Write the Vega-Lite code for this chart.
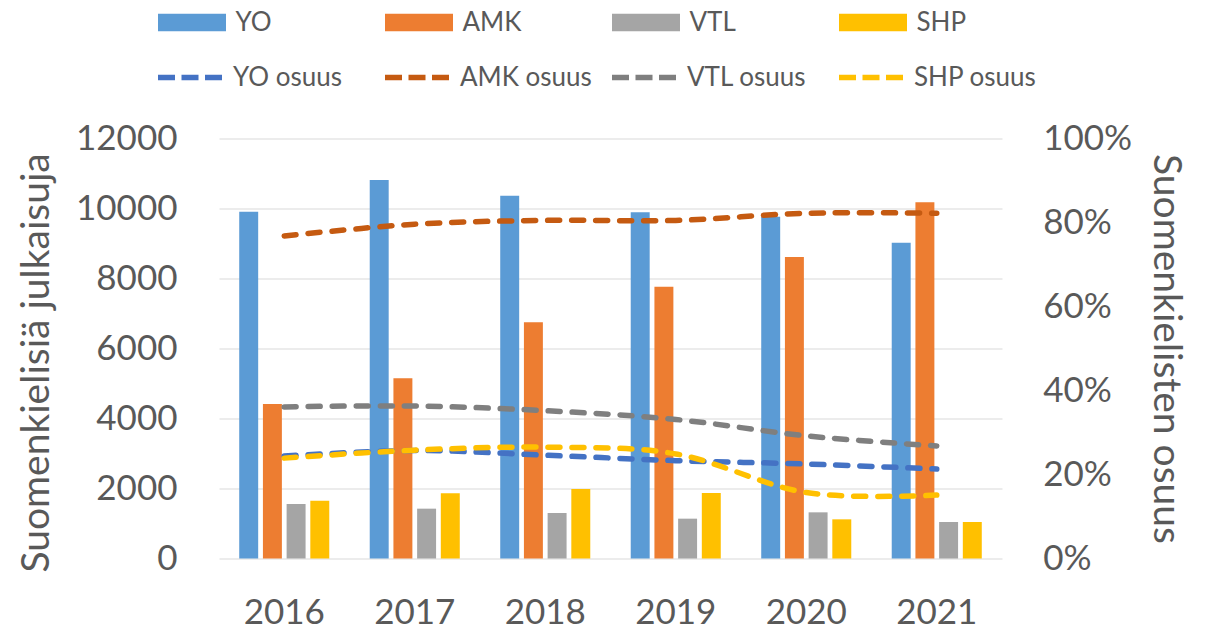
{
  "$schema": "https://vega.github.io/schema/vega-lite/v6.json",
  "width": 783,
  "height": 420,
  "autosize": {"type": "none"},
  "padding": {"left": 219, "top": 138.5, "right": 205, "bottom": 72.5},
  "background": "white",
  "config": {
    "view": {"stroke": null},
    "font": "Lato",
    "axis": {"labelFont": "Lato", "titleFont": "Lato", "labelColor": "#595959", "titleColor": "#595959", "labelFontSize": 35, "titleFontSize": 39, "titleFontWeight": "normal", "ticks": false, "domain": false},
    "legend": {"labelFont": "Lato"}
  },
  "datasets": {
    "bars": [
      {"year": "2016", "series": "YO", "value": 9909},
      {"year": "2016", "series": "AMK", "value": 4414},
      {"year": "2016", "series": "VTL", "value": 1557},
      {"year": "2016", "series": "SHP", "value": 1652},
      {"year": "2017", "series": "YO", "value": 10814},
      {"year": "2017", "series": "AMK", "value": 5148},
      {"year": "2017", "series": "VTL", "value": 1424},
      {"year": "2017", "series": "SHP", "value": 1862},
      {"year": "2018", "series": "YO", "value": 10366},
      {"year": "2018", "series": "AMK", "value": 6747},
      {"year": "2018", "series": "VTL", "value": 1300},
      {"year": "2018", "series": "SHP", "value": 1986},
      {"year": "2019", "series": "YO", "value": 9890},
      {"year": "2019", "series": "AMK", "value": 7767},
      {"year": "2019", "series": "VTL", "value": 1138},
      {"year": "2019", "series": "SHP", "value": 1871},
      {"year": "2020", "series": "YO", "value": 9767},
      {"year": "2020", "series": "AMK", "value": 8614},
      {"year": "2020", "series": "VTL", "value": 1319},
      {"year": "2020", "series": "SHP", "value": 1119},
      {"year": "2021", "series": "YO", "value": 9024},
      {"year": "2021", "series": "AMK", "value": 10177},
      {"year": "2021", "series": "VTL", "value": 1043},
      {"year": "2021", "series": "SHP", "value": 1043}
    ],
    "shares": [
      {"year": "2016", "series": "YO osuus", "share": 0.244},
      {"year": "2017", "series": "YO osuus", "share": 0.257},
      {"year": "2018", "series": "YO osuus", "share": 0.246},
      {"year": "2019", "series": "YO osuus", "share": 0.233},
      {"year": "2020", "series": "YO osuus", "share": 0.225},
      {"year": "2021", "series": "YO osuus", "share": 0.213},
      {"year": "2016", "series": "AMK osuus", "share": 0.768},
      {"year": "2017", "series": "AMK osuus", "share": 0.796},
      {"year": "2018", "series": "AMK osuus", "share": 0.805},
      {"year": "2019", "series": "AMK osuus", "share": 0.805},
      {"year": "2020", "series": "AMK osuus", "share": 0.822},
      {"year": "2021", "series": "AMK osuus", "share": 0.822},
      {"year": "2016", "series": "VTL osuus", "share": 0.361},
      {"year": "2017", "series": "VTL osuus", "share": 0.363},
      {"year": "2018", "series": "VTL osuus", "share": 0.352},
      {"year": "2019", "series": "VTL osuus", "share": 0.331},
      {"year": "2020", "series": "VTL osuus", "share": 0.292},
      {"year": "2021", "series": "VTL osuus", "share": 0.268},
      {"year": "2016", "series": "SHP osuus", "share": 0.239},
      {"year": "2017", "series": "SHP osuus", "share": 0.258},
      {"year": "2018", "series": "SHP osuus", "share": 0.265},
      {"year": "2019", "series": "SHP osuus", "share": 0.249},
      {"year": "2020", "series": "SHP osuus", "share": 0.157},
      {"year": "2021", "series": "SHP osuus", "share": 0.151}
    ]
  },
  "layer": [
    {
      "data": {"name": "bars"},
      "mark": {"type": "bar"},
      "encoding": {
        "x": {
          "field": "year", "type": "nominal",
          "scale": {"paddingInner": 0.31, "paddingOuter": 0.155},
          "axis": {"title": null, "labelAngle": 0, "labelPadding": 37, "grid": false}
        },
        "xOffset": {"field": "series", "type": "nominal", "sort": ["YO", "AMK", "VTL", "SHP"], "scale": {"paddingInner": 0.2, "paddingOuter": 0}},
        "y": {
          "field": "value", "type": "quantitative",
          "scale": {"domain": [0, 12000], "nice": false},
          "axis": {"title": "Suomenkielisiä julkaisuja", "values": [0, 2000, 4000, 6000, 8000, 10000, 12000], "format": "d", "grid": true, "gridColor": "#D9D9D9", "gridWidth": 1, "labelPadding": 42, "titleX": -171, "titleY": 224, "titleBaseline": "alphabetic", "titleAngle": -90}
        },
        "color": {
          "field": "series", "type": "nominal",
          "scale": {
            "domain": ["YO", "AMK", "VTL", "SHP"],
            "range": ["#5B9BD5", "#ED7D31", "#A5A5A5", "#FFC000"]
          },
          "legend": {
            "title": null,
            "orient": "none",
            "direction": "horizontal",
            "legendX": -40,
            "legendY": -129,
            "columns": 4,
            "gridAlign": "all",
            "columnPadding": 90,
            "symbolType": "M-3.4,-0.87H3.4V0.87H-3.4Z",
            "symbolSize": 400,
            "symbolStrokeWidth": 0,
            "symbolOpacity": 1,
            "labelOffset": 30.5,
            "labelFontSize": 26,
            "labelColor": "#595959"
          }
        }
      }
    },
    {
      "data": {"name": "shares"},
      "mark": {"type": "line", "interpolate": "cardinal", "strokeWidth": 5.5, "strokeDash": [12, 12], "strokeCap": "round"},
      "encoding": {
        "x": {"field": "year", "type": "nominal"},
        "y": {
          "field": "share", "type": "quantitative",
          "scale": {"domain": [0, 1], "nice": false},
          "axis": {"title": "Suomenkielisten osuus", "orient": "right", "format": ".0%", "values": [0, 0.2, 0.4, 0.6, 0.8, 1], "grid": false, "labelPadding": 40.7, "titleX": 151, "titleY": 210, "titleBaseline": "alphabetic", "titleAngle": 90}
        },
        "stroke": {
          "field": "series", "type": "nominal",
          "scale": {
            "domain": ["YO osuus", "AMK osuus", "VTL osuus", "SHP osuus"],
            "range": ["#4472C4", "#C55A11", "#7F7F7F", "#FFC000"]
          },
          "legend": {
            "title": null,
            "orient": "none",
            "direction": "horizontal",
            "legendX": -40,
            "legendY": -74,
            "columns": 4,
            "gridAlign": "all",
            "columnPadding": 9,
            "symbolType": "M-3.4,0H3.4",
            "symbolSize": 400,
            "symbolStrokeWidth": 5.5,
            "symbolDash": [17, 6.5],
            "symbolFillColor": "transparent",
            "symbolOpacity": 1,
            "labelOffset": 28,
            "labelFontSize": 26,
            "labelColor": "#595959"
          }
        }
      }
    }
  ],
  "resolve": {"scale": {"y": "independent"}}
}
